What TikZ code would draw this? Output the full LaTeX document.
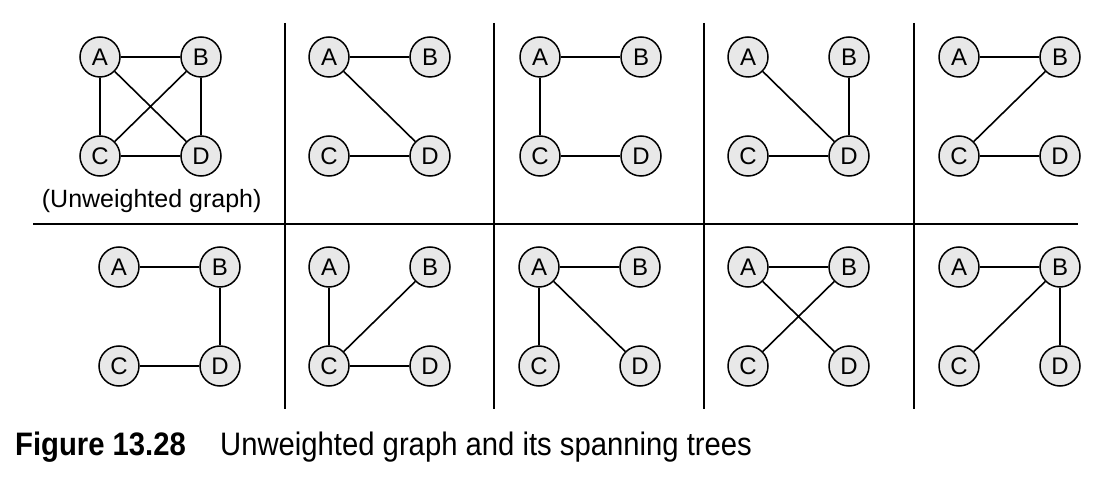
\documentclass[tikz,border=0pt]{standalone}
\usepackage{fontspec}
\setmainfont{Liberation Sans}
\newfontfamily\capfont[FakeStretch=0.9]{Liberation Sans}
\begin{document}
\begin{tikzpicture}[x=1pt,y=-1pt,
  vtx/.style={circle,draw=black,line width=1.5pt,fill=gray!18,minimum size=40pt,inner sep=0pt,
    font=\fontsize{24}{28}\selectfont},
  edge/.style={line width=1.6pt},
  rule/.style={line width=1.8pt}]
\useasboundingbox (0,0) rectangle (1113,478);
\newcommand\grph[3]{%
  \node[vtx] (#1A) at (#2,#3) {A};
  \node[vtx] (#1B) at (#2+101,#3) {B};
  \node[vtx] (#1C) at (#2,#3+99) {C};
  \node[vtx] (#1D) at (#2+101,#3+99) {D};}
% top row
\grph{ta}{100}{57}
\grph{tb}{329}{57}
\grph{tc}{540}{57}
\grph{td}{748}{57}
\grph{te}{959}{57}
% bottom row
\grph{ba}{119}{267}
\grph{bb}{329}{267}
\grph{bc}{539}{267}
\grph{bd}{748}{267}
\grph{be}{959}{267}
% edges top
\draw[edge] (taA)--(taB) (taA)--(taC) (taA)--(taD) (taB)--(taC) (taB)--(taD) (taC)--(taD);
\draw[edge] (tbA)--(tbB) (tbA)--(tbD) (tbC)--(tbD);
\draw[edge] (tcA)--(tcB) (tcA)--(tcC) (tcC)--(tcD);
\draw[edge] (tdA)--(tdD) (tdB)--(tdD) (tdC)--(tdD);
\draw[edge] (teA)--(teB) (teB)--(teC) (teC)--(teD);
% edges bottom
\draw[edge] (baA)--(baB) (baB)--(baD) (baC)--(baD);
\draw[edge] (bbA)--(bbC) (bbB)--(bbC) (bbC)--(bbD);
\draw[edge] (bcA)--(bcB) (bcA)--(bcC) (bcA)--(bcD);
\draw[edge] (bdA)--(bdB) (bdA)--(bdD) (bdB)--(bdC);
\draw[edge] (beA)--(beB) (beB)--(beC) (beB)--(beD);
% label
\node[anchor=base,font=\fontsize{25}{29}\selectfont,inner sep=0pt] (lbl) at (151.7,207.3) {(Unweighted graph)};
% grid rules
\coordinate (h1) at (33,224);
\coordinate (h2) at (1078,224);
\draw[rule] (h1) -- (h2);
\foreach \xx/\nm in {285/va,494/vb,704/vc,914/vd}{
  \coordinate (\nm1) at (\xx,23);
  \coordinate (\nm2) at (\xx,409);
  \draw[rule] (\nm1) -- (\nm2);
}
% caption
\node[anchor=base west,inner sep=0pt,font=\capfont\bfseries\fontsize{32.5}{38}\selectfont] (fig) at (15,455) {Figure 13.28};
\node[anchor=base west,inner sep=0pt,font=\capfont\fontsize{32.5}{38}\selectfont] (cap) at (220,455) {Unweighted graph and its spanning trees};
\end{tikzpicture}
\end{document}
